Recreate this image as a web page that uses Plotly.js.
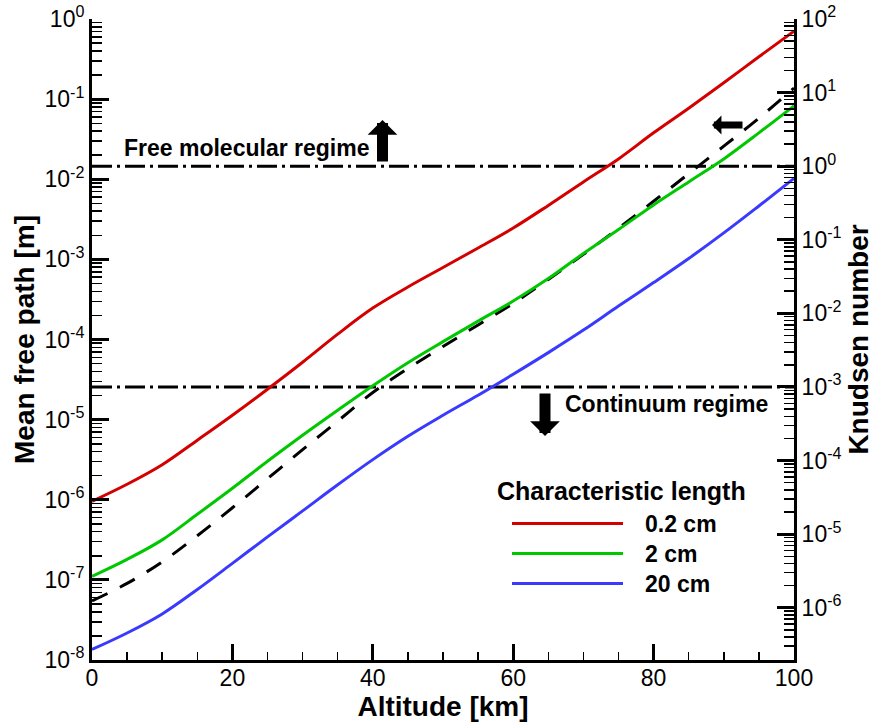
<!DOCTYPE html>
<html><head><meta charset="utf-8">
<script src="https://cdn.plot.ly/plotly-3.0.1.min.js"></script>
<style>html,body{margin:0;padding:0;background:#fff}#chart{width:877px;height:722px}</style>
</head><body><div id="chart"></div>
<script>
// ---- data ----
const altitude = [0,5,10,15,20,25,30,35,40,45,50,55,60,65,70,75,80,85,90,95,100];
// mean free path [m] (left axis, dashed)
const meanFreePath = [5.46e-8,9.04e-8,1.68e-7,3.55e-7,7.94e-7,1.83e-6,4.22e-6,9.58e-6,2.18e-5,4.34e-5,8.18e-5,1.52e-4,2.82e-4,5.62e-4,1.155e-3,2.44e-3,5.31e-3,1.172e-2,2.59e-2,5.79e-2,1.372e-1];
// Knudsen number (right axis) for each characteristic length
const knudsen_02cm = [2.79e-5,4.76e-5,8.77e-5,1.89e-4,4.13e-4,9.33e-4,2.17e-3,5.22e-3,1.18e-2,2.28e-2,4.20e-2,7.74e-2,0.1446,0.293,0.611,1.256,2.84,6.14,13.6,30.7,68.2];
const knudsen_2cm  = [2.67e-6,4.54e-6,8.36e-6,1.86e-5,4.20e-5,9.79e-5,2.21e-4,4.83e-4,1.04e-3,2.14e-3,4.13e-3,7.85e-3,1.47e-2,2.97e-2,6.52e-2,0.138,0.297,0.611,1.256,2.84,6.61];
const knudsen_20cm = [2.71e-7,4.54e-7,8.24e-7,1.77e-6,4.01e-6,9.18e-6,2.07e-5,4.69e-5,1.03e-4,2.14e-4,4.13e-4,7.73e-4,1.49e-3,2.93e-3,5.93e-3,1.257e-2,2.62e-2,5.57e-2,0.124,0.288,0.682];
const seriesNames = ['0.2 cm','2 cm','20 cm'];
const seriesColors = ['#d40000','#00c800','#3a3aff'];
// regime limits (Knudsen number)
const regimeKn = [1, 1e-3];
const regimeLabels = ['Free molecular regime','Continuum regime'];
// tick labels
const xTickVals = [0,20,40,60,80,100];
const leftExp = [-8,-7,-6,-5,-4,-3,-2,-1,0];
const rightExp = [-6,-5,-4,-3,-2,-1,0,1,2];

const FONT = 'Liberation Sans, Arial, Helvetica, sans-serif';
function decadeTicks(exps){ return exps.map(e => Math.pow(10,e)); }
function decadeText(exps){ return exps.map(e => '10<sup>' + e + '</sup>'); }
function minorTicks(exps){
  const out = [];
  for (let i = exps[0]-1; i <= exps[exps.length-1]; i++)
    for (let m = 2; m <= 9; m++) out.push(m*Math.pow(10,i));
  return out;
}
const xMinor = [];
for (let v = 0; v <= 100; v += 5) xMinor.push(v);

const knSeries = [knudsen_02cm, knudsen_2cm, knudsen_20cm];
const traces = [];
regimeKn.forEach(k => traces.push({
  x:[0,100], y:[k,k], yaxis:'y2', mode:'lines', showlegend:false, hoverinfo:'skip',
  line:{color:'#000', width:3, dash:'20px,5px,3px,5px'}
}));
traces.push({
  x: altitude, y: meanFreePath, name:'Mean free path', mode:'lines', showlegend:false,
  line:{color:'#000', width:3, dash:'17px,14px', shape:'spline', smoothing:1}
});
knSeries.forEach((s,i) => traces.push({
  x: altitude, y: s, yaxis:'y2', name: seriesNames[i], mode:'lines', showlegend:false,
  line:{color: seriesColors[i], width:3, shape:'spline', smoothing:1}
}));

const L = 92, R = 83, T = 19, B = 62, W = 877, H = 722;
const PW = W-L-R, PH = H-T-B;
const px = v => (v - L)/PW;
const py = v => (H - B - v)/PH;

const tickFont = {family: FONT, size: 23, color:'#000'};
const titleFont = {family: FONT, size: 28, color:'#000', weight:'bold'};
const textFont = {family: FONT, size: 23, color:'#000', weight:'bold'};
const legendTitleFont = {family: FONT, size: 25, color:'#000', weight:'bold'};

const annotations = [
  {xref:'paper', yref:'paper', x:px(122), y:py(148), xanchor:'left', yanchor:'middle', text:regimeLabels[0], showarrow:false, font:textFont},
  {xref:'paper', yref:'paper', x:px(563), y:py(404), xanchor:'left', yanchor:'middle', text:regimeLabels[1], showarrow:false, font:textFont},
  // arrows
  {xref:'paper', yref:'paper', x:px(382.5), y:py(120), ax:0, ay:43, text:'', showarrow:true, arrowhead:1, arrowsize:0.45, arrowwidth:11, arrowcolor:'#000', standoff:0},
  {xref:'paper', yref:'paper', x:px(545), y:py(436), ax:0, ay:-44, text:'', showarrow:true, arrowhead:1, arrowsize:0.45, arrowwidth:11, arrowcolor:'#000', standoff:0},
  {xref:'paper', yref:'paper', x:px(712), y:py(125), ax:32, ay:0, text:'', showarrow:true, arrowhead:1, arrowsize:0.45, arrowwidth:7, arrowcolor:'#000', standoff:0},
  // legend
  {xref:'paper', yref:'paper', x:px(495), y:py(491), xanchor:'left', yanchor:'middle', text:'Characteristic length', showarrow:false, font:legendTitleFont}
];
const shapes = [];
const legendY = [523.5, 553.5, 583.5];
seriesNames.forEach((n,i) => {
  shapes.push({type:'line', xref:'paper', yref:'paper', x0:px(512), x1:px(623), y0:py(legendY[i]), y1:py(legendY[i]), line:{color:seriesColors[i], width:3}});
  annotations.push({xref:'paper', yref:'paper', x:px(643), y:py(legendY[i]), xanchor:'left', yanchor:'middle', text:n, showarrow:false, font:textFont});
});

const layout = {
  width: W, height: H,
  margin:{l:L, r:R, t:T, b:B, pad:0},
  paper_bgcolor:'#fff', plot_bgcolor:'#fff',
  showlegend:false,
  font:{family: FONT, color:'#000'},
  xaxis:{
    range:[0,100], tickmode:'array', tickvals:xTickVals, ticks:'inside', ticklen:16, tickwidth:3, tickcolor:'#000',
    ticklabelstandoff:-5,
    minor:{tickmode:'array', tickvals:xMinor, ticks:'inside', ticklen:8, tickwidth:1.5, tickcolor:'#000'},
    showline:true, linewidth:3, linecolor:'#000', showgrid:false, zeroline:false, tickfont:tickFont,
    title:{text:'Altitude [km]', font:titleFont, standoff:0}
  },
  yaxis:{
    type:'log', range:[-8,0], tickmode:'array', tickvals:decadeTicks(leftExp), ticktext:decadeText(leftExp),
    ticks:'inside', ticklen:17, tickwidth:3, tickcolor:'#000',
    minor:{tickmode:'array', tickvals:minorTicks(leftExp), ticks:'inside', ticklen:10, tickwidth:1.5, tickcolor:'#000'},
    showline:true, linewidth:3, linecolor:'#000', showgrid:false, zeroline:false, tickfont:tickFont,
    title:{text:'Mean free path [m]', font:titleFont, standoff:2}
  },
  yaxis2:{
    type:'log', range:[-6.71,2], overlaying:'y', side:'right', tickmode:'array', tickvals:decadeTicks(rightExp), ticktext:decadeText(rightExp),
    ticks:'inside', ticklen:17, tickwidth:3, tickcolor:'#000',
    minor:{tickmode:'array', tickvals:minorTicks(rightExp), ticks:'inside', ticklen:10, tickwidth:1.5, tickcolor:'#000'},
    showline:true, linewidth:3, linecolor:'#000', showgrid:false, zeroline:false, tickfont:tickFont,
    title:{text:'Knudsen number', font:titleFont, standoff:8}
  },
  annotations: annotations,
  shapes: shapes
};
Plotly.newPlot('chart', traces, layout, {staticPlot:true, displayModeBar:false});
</script>
</body></html>
